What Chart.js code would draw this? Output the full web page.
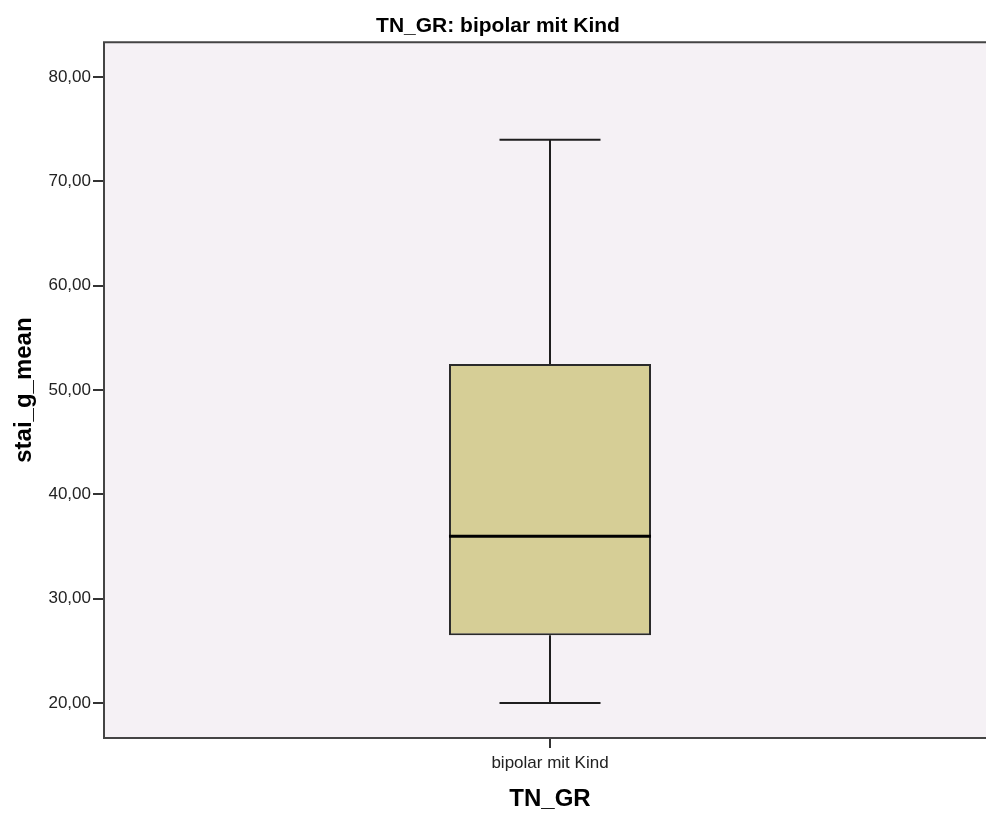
<!DOCTYPE html>
<html lang="de">
<head>
<meta charset="utf-8">
<title>TN_GR: bipolar mit Kind</title>
<script src="https://cdn.jsdelivr.net/npm/chart.js@4.4.1/dist/chart.umd.min.js"></script>
<style>
  html, body { margin: 0; padding: 0; background: #fff; overflow: hidden; }
  #wrap { width: 996px; height: 814px; }
</style>
</head>
<body>
<div id="wrap"><canvas id="boxplot" width="996" height="814"></canvas></div>
<script>
// Dados do boxplot
const categorias = ['bipolar mit Kind'];
const minimo = [20];
const quartil1 = [26.5];
const mediana = [36];
const quartil3 = [52.5];
const maximo = [74];
const yTicks = [20, 30, 40, 50, 60, 70, 80];

// Estilo
const FONTE = "'Liberation Sans', Arial, sans-serif";
const COR_FUNDO = '#f5f1f5';
const COR_CAIXA = '#d6ce96';
const COR_LINHA = '#1e1e1e';
const COR_MOLDURA = '#444';

function formatarTick(v) {
    return Number(v).toFixed(2).replace('.', ',');
}

// Fundo da área do gráfico
const fundoPlugin = {
    id: 'fundo',
    beforeDraw(chart) {
        const { ctx, chartArea: a } = chart;
        ctx.save();
        ctx.fillStyle = COR_FUNDO;
        ctx.fillRect(a.left, a.top, a.right - a.left, a.bottom - a.top);
        ctx.restore();
    }
};

// Bigodes e mediana
const bigodesPlugin = {
    id: 'bigodes',
    afterDatasetsDraw(chart) {
        const { ctx } = chart;
        const y = chart.scales.y;
        const meta = chart.getDatasetMeta(0);
        meta.data.forEach((bar, i) => {
            const x = bar.x;
            const meia = bar.width / 2;
            const cap = bar.width / 4;
            const yMin = y.getPixelForValue(minimo[i]);
            const yQ1 = y.getPixelForValue(quartil1[i]);
            const yMed = y.getPixelForValue(mediana[i]);
            const yQ3 = y.getPixelForValue(quartil3[i]);
            const yMax = y.getPixelForValue(maximo[i]);

            ctx.save();
            ctx.strokeStyle = COR_LINHA;
            ctx.lineWidth = 2;
            ctx.beginPath();
            ctx.moveTo(x, yQ3); ctx.lineTo(x, yMax);
            ctx.moveTo(x - cap, yMax); ctx.lineTo(x + cap, yMax);
            ctx.moveTo(x, yQ1); ctx.lineTo(x, yMin);
            ctx.moveTo(x - cap, yMin); ctx.lineTo(x + cap, yMin);
            ctx.stroke();

            // Mediana
            ctx.strokeStyle = '#000';
            ctx.lineWidth = 3;
            ctx.beginPath();
            ctx.moveTo(x - meia, yMed); ctx.lineTo(x + meia, yMed);
            ctx.stroke();
            ctx.restore();
        });
    }
};

// Moldura (esquerda, topo, base)
const molduraPlugin = {
    id: 'moldura',
    afterDraw(chart) {
        const { ctx, chartArea: a } = chart;
        ctx.save();
        ctx.strokeStyle = COR_MOLDURA;
        ctx.lineWidth = 2;
        ctx.beginPath();
        ctx.moveTo(a.right, a.top);
        ctx.lineTo(a.left, a.top);
        ctx.lineTo(a.left, a.bottom);
        ctx.lineTo(a.right, a.bottom);
        ctx.stroke();
        ctx.restore();
    }
};

const ctx = document.getElementById('boxplot').getContext('2d');
const boxChart = new Chart(ctx, {
    type: 'bar',
    data: {
        labels: categorias,
        datasets: [{
            data: categorias.map((_, i) => [quartil1[i], quartil3[i]]),
            backgroundColor: COR_CAIXA,
            borderColor: '#2a2a2a',
            borderWidth: 2,
            borderSkipped: false,
            barPercentage: 0.2265,
            categoryPercentage: 1
        }]
    },
    options: {
        responsive: false,
        animation: false,
        events: [],
        layout: { padding: 0 },
        plugins: {
            legend: { display: false },
            tooltip: { enabled: false },
            title: {
                display: true,
                text: 'TN_GR: bipolar mit Kind',
                color: '#000',
                font: { family: FONTE, size: 21, weight: 'bold' },
                padding: { top: 14, bottom: 3 }
            }
        },
        scales: {
            x: {
                offset: true,
                grid: {
                    display: true,
                    drawOnChartArea: false,
                    offset: false,
                    tickLength: 10,
                    color: '#333',
                    lineWidth: 2
                },
                border: { display: false },
                ticks: {
                    color: '#222',
                    font: { family: FONTE, size: 17 },
                    padding: 5
                },
                title: {
                    display: true,
                    text: 'TN_GR',
                    color: '#000',
                    font: { family: FONTE, size: 24, weight: 'bold' },
                    padding: { top: 0, bottom: 0 }
                },
                afterFit(scale) { scale.height = 76; }
            },
            y: {
                min: 16.65,
                max: 83.35,
                afterBuildTicks(scale) {
                    scale.ticks = yTicks.map(v => ({ value: v }));
                },
                grid: {
                    drawOnChartArea: false,
                    tickLength: 11,
                    color: '#333',
                    lineWidth: 2
                },
                border: { display: false },
                ticks: {
                    color: '#222',
                    font: { family: FONTE, size: 17 },
                    padding: 2,
                    callback: v => formatarTick(v)
                },
                title: {
                    display: true,
                    text: 'stai_g_mean',
                    color: '#000',
                    font: { family: FONTE, size: 24, weight: 'bold' },
                    padding: { top: 10, bottom: 0 }
                },
                afterFit(scale) { scale.width = 104; }
            }
        }
    },
    plugins: [fundoPlugin, bigodesPlugin, molduraPlugin]
});
</script>
</body>
</html>
